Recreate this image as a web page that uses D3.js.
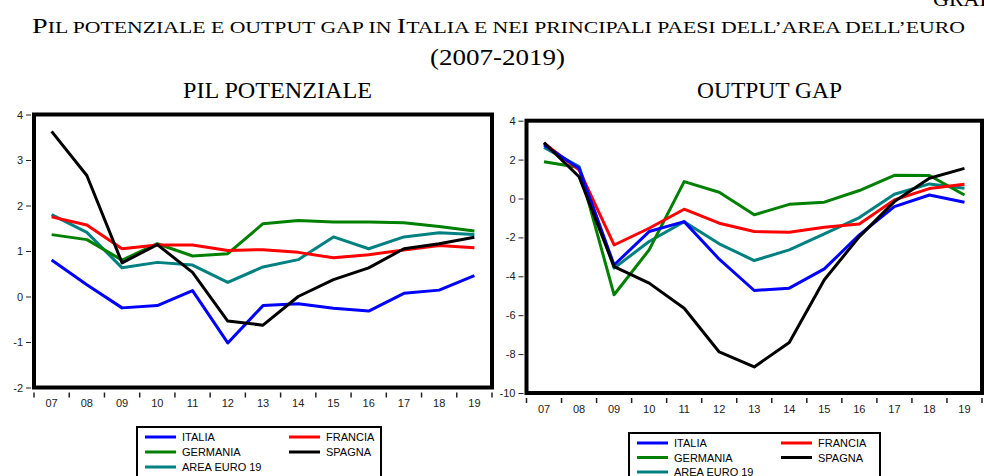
<!DOCTYPE html>
<html>
<head>
<meta charset="utf-8">
<script src="https://cdn.jsdelivr.net/npm/d3@7"></script>
<style>
body { margin: 0; background: #fff; }
svg { display: block; }
.tt { font-family: "Liberation Serif", "Times New Roman", serif; fill: #000; }
.ax text { font-family: "Liberation Sans", Arial, sans-serif; font-size: 11px; fill: #222; }
.lg { font-family: "Liberation Sans", Arial, sans-serif; font-size: 11px; fill: #000; }
</style>
</head>
<body>
<div id="chart"></div>
<script>
var years = ["07","08","09","10","11","12","13","14","15","16","17","18","19"];
var names = ["ITALIA","FRANCIA","GERMANIA","SPAGNA","AREA EURO 19"];
var colors = ["#0000ff","#ff0000","#008000","#000000","#008080"];

// PIL potenziale (var. %)
var potItalia   = [0.80, 0.26, -0.25, -0.20, 0.13, -1.02, -0.20, -0.16, -0.26, -0.32, 0.07, 0.14, 0.46];
var potFrancia  = [1.75, 1.57, 1.05, 1.13, 1.13, 1.01, 1.03, 0.97, 0.85, 0.92, 1.02, 1.12, 1.07];
var potGermania = [1.36, 1.25, 0.80, 1.16, 0.89, 0.94, 1.60, 1.67, 1.64, 1.64, 1.62, 1.54, 1.44];
var potSpagna   = [3.63, 2.66, 0.74, 1.14, 0.53, -0.54, -0.63, 0.00, 0.37, 0.63, 1.05, 1.16, 1.30];
var potEuro     = [1.80, 1.41, 0.63, 0.75, 0.69, 0.31, 0.65, 0.81, 1.31, 1.05, 1.31, 1.40, 1.36];

// output gap (% del PIL potenziale)
var gapItalia   = [2.75, 1.55, -3.42, -1.70, -1.19, -3.12, -4.73, -4.61, -3.62, -1.87, -0.42, 0.18, -0.19];
var gapFrancia  = [2.84, 1.47, -2.39, -1.53, -0.55, -1.27, -1.70, -1.73, -1.48, -1.31, -0.07, 0.51, 0.73];
var gapGermania = [1.89, 1.59, -4.95, -2.64, 0.87, 0.32, -0.84, -0.30, -0.19, 0.41, 1.19, 1.18, 0.18];
var gapSpagna   = [2.87, 1.12, -3.50, -4.35, -5.64, -7.89, -8.66, -7.40, -4.18, -1.96, -0.16, 1.04, 1.55];
var gapEuro     = [2.63, 1.64, -3.58, -2.21, -1.19, -2.33, -3.19, -2.64, -1.82, -0.98, 0.22, 0.75, 0.53];

var yTicksPot = [-2, -1, 0, 1, 2, 3, 4];
var yTicksGap = [-10, -8, -6, -4, -2, 0, 2, 4];

var W = 984, H = 476;
var svg = d3.select("#chart").append("svg").attr("width", W).attr("height", H);

// maiuscoletto fatto a mano: maiuscole grandi, minuscole rese come maiuscole piccole
function smallCaps(el, str, big, small) {
    var runs = [];
    for (var i = 0; i < str.length; i++) {
        var c = str[i];
        var isBig = c !== c.toLowerCase();
        if (runs.length && runs[runs.length - 1].big === isBig) runs[runs.length - 1].t += c;
        else runs.push({t: c, big: isBig});
    }
    runs.forEach(function(r) {
        el.append("tspan").style("font-size", (r.big ? big : small) + "px").text(r.t.toUpperCase());
    });
}

// titoli
svg.append("text").attr("class", "tt").attr("x", 933).attr("y", 6)
    .style("font-size", "22px").text("GRAFICO 1.1");
var t1 = svg.append("text").attr("class", "tt").attr("x", 32).attr("y", 33)
    .attr("textLength", 933).attr("lengthAdjust", "spacingAndGlyphs");
smallCaps(t1, "Pil potenziale e output gap in Italia e nei principali paesi dell’area dell’euro", 22, 17);
svg.append("text").attr("class", "tt").attr("x", 430).attr("y", 65)
    .attr("textLength", 135).attr("lengthAdjust", "spacingAndGlyphs")
    .style("font-size", "23px").text("(2007-2019)");

function panel(opt) {
    var g = svg.append("g");
    var x = d3.scaleBand().domain(years).range([opt.x0, opt.x1]);
    var y = d3.scaleLinear().domain(opt.domain).range([opt.y1, opt.y0]);

    g.append("text").attr("class", "tt").attr("x", opt.tx).attr("y", 98)
        .attr("textLength", opt.tw).attr("lengthAdjust", "spacingAndGlyphs")
        .style("font-size", "23px").text(opt.title);

    // asse y
    var ya = g.append("g").attr("class", "ax")
        .attr("transform", "translate(" + (opt.x0 - 3) + ",0)")
        .call(d3.axisLeft(y).tickValues(opt.yticks).tickSize(5).tickPadding(3)
            .tickFormat(function(d) { return String(d); }));
    ya.select(".domain").remove();
    ya.selectAll("line").attr("stroke", "#222");

    // asse x: tacche ai bordi delle bande, etichette al centro
    var xa = g.append("g").attr("class", "ax")
        .attr("transform", "translate(0," + (opt.y1 + 5) + ")")
        .call(d3.axisBottom(x).tickSize(0).tickPadding(7));
    xa.select(".domain").remove();
    var edges = years.map(function(d) { return x(d); }).concat([opt.x1]);
    g.selectAll(".xt").data(edges).enter().append("line")
        .attr("x1", function(d) { return d; }).attr("x2", function(d) { return d; })
        .attr("y1", opt.y1 + 5).attr("y2", opt.y1 + 10)
        .attr("stroke", "#222").attr("stroke-width", 1.5);

    var line = d3.line()
        .x(function(d, i) { return x(years[i]) + x.bandwidth() / 2; })
        .y(function(d) { return y(d); });

    var order = [4, 2, 1, 0, 3];
    order.forEach(function(k) {
        g.append("path").datum(opt.series[k])
            .attr("d", line).attr("fill", "none")
            .attr("stroke", colors[k]).attr("stroke-width", 3)
            .attr("stroke-linejoin", "round");
    });

    g.append("rect").attr("x", opt.x0).attr("y", opt.y0)
        .attr("width", opt.x1 - opt.x0).attr("height", opt.y1 - opt.y0)
        .attr("fill", "none").attr("stroke", "#000").attr("stroke-width", 4);

    // legenda
    var L = opt.legend;
    var lg = g.append("g").attr("transform", "translate(" + L.x + "," + L.y + ")");
    lg.append("rect").attr("x", 0).attr("y", 0).attr("width", L.w).attr("height", 60)
        .attr("fill", "#fff").attr("stroke", "#000").attr("stroke-width", 2);
    var pos = [[0, 0], [1, 0], [0, 1], [1, 1], [0, 2]];
    names.forEach(function(n, k) {
        var cx = pos[k][0] ? L.c2 : 8, cy = L.r0 + pos[k][1] * L.dy;
        lg.append("line").attr("x1", cx).attr("x2", cx + 31).attr("y1", cy).attr("y2", cy)
            .attr("stroke", colors[k]).attr("stroke-width", 3);
        lg.append("text").attr("class", "lg").attr("x", cx + 37).attr("y", cy + 4).text(n);
    });
}

panel({
    title: "PIL POTENZIALE", tx: 183, tw: 189,
    x0: 34, x1: 492, y0: 114.5, y1: 387.5, domain: [-2, 4], yticks: yTicksPot,
    series: [potItalia, potFrancia, potGermania, potSpagna, potEuro],
    legend: {x: 137, y: 427, w: 244, c2: 152, r0: 10, dy: 15}
});
panel({
    title: "OUTPUT GAP", tx: 697, tw: 145,
    x0: 526.5, x1: 982, y0: 120.7, y1: 393, domain: [-10, 4], yticks: yTicksGap,
    series: [gapItalia, gapFrancia, gapGermania, gapSpagna, gapEuro],
    legend: {x: 629, y: 433, w: 251, c2: 152, r0: 10, dy: 14.5}
});
</script>
</body>
</html>
